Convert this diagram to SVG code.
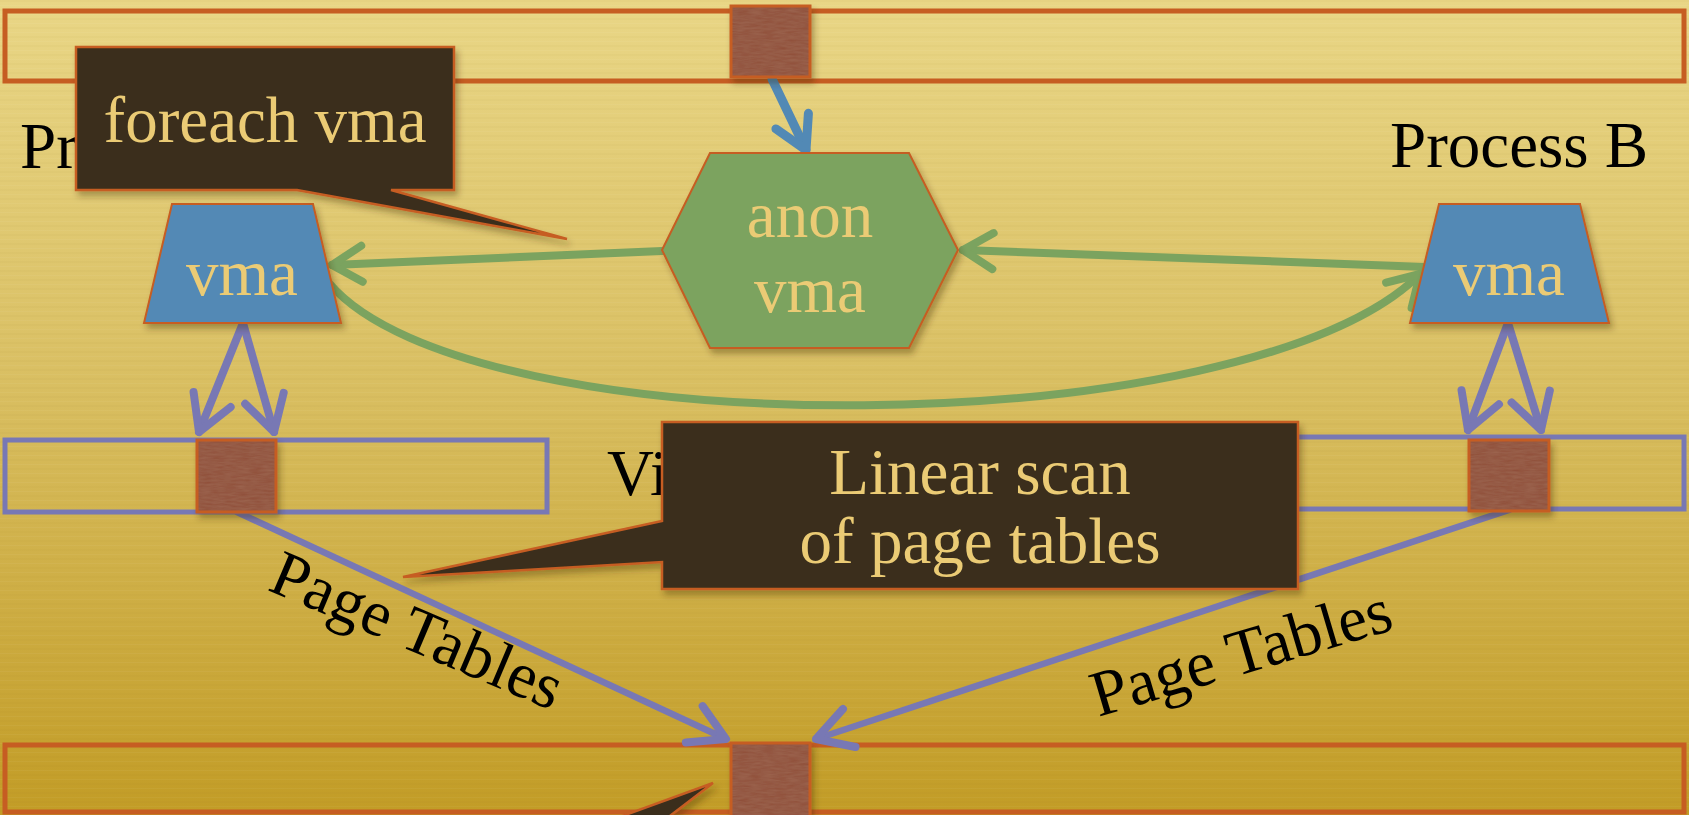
<svg xmlns="http://www.w3.org/2000/svg" width="1689" height="815" viewBox="0 0 1689 815">
  <defs>
    <linearGradient id="bg" x1="0" y1="0" x2="0" y2="1">
      <stop offset="0" stop-color="#E9D686"/>
      <stop offset="0.45" stop-color="#DAC064"/>
      <stop offset="1" stop-color="#C29C26"/>
    </linearGradient>
    <pattern id="grain" width="40" height="9" patternUnits="userSpaceOnUse">
      <rect x="0" y="0" width="40" height="2" fill="#8a6a10" opacity="0.035"/>
      <rect x="0" y="5" width="40" height="1" fill="#ffffff" opacity="0.04"/>
    </pattern>
    <filter id="shadow" x="-20%" y="-20%" width="140%" height="150%">
      <feDropShadow dx="3" dy="5" stdDeviation="3" flood-color="#3a2a00" flood-opacity="0.35"/>
    </filter>
    <filter id="rough" x="0" y="0" width="100%" height="100%">
      <feTurbulence type="fractalNoise" baseFrequency="0.08 0.5" numOctaves="2" seed="4" result="n"/>
      <feColorMatrix in="n" type="matrix" values="0 0 0 0 0.45  0 0 0 0 0.24  0 0 0 0 0.16  0 0 0 0.35 0" result="tint"/>
      <feComposite in="tint" in2="SourceGraphic" operator="atop"/>
    </filter>
    <marker id="ah-blue" markerUnits="userSpaceOnUse" orient="auto" overflow="visible" refX="0" refY="0">
      <path d="M-32,-18 L0,0 L-32,18" fill="none" stroke="#5289B5" stroke-width="9" stroke-linecap="round" stroke-linejoin="round"/>
    </marker>
    <marker id="ah-green" markerUnits="userSpaceOnUse" orient="auto" overflow="visible" refX="0" refY="0">
      <path d="M-30,-18 L0,0 L-30,18" fill="none" stroke="#7BA35F" stroke-width="8" stroke-linecap="round" stroke-linejoin="round"/>
    </marker>
    <marker id="ah-purple" markerUnits="userSpaceOnUse" orient="auto" overflow="visible" refX="0" refY="0">
      <path d="M-35,-20 L0,0 L-35,20" fill="none" stroke="#7878B4" stroke-width="8" stroke-linecap="round" stroke-linejoin="round"/>
    </marker>
    <style>
      .bar { fill: none; stroke: #C65D22; stroke-width: 5; }
      .vbar { fill: none; stroke: #7878B4; stroke-width: 5; }
      .page { fill: #8E4C36; }
      .page-edge { fill: none; stroke: #C65D22; stroke-width: 3; }
      .vma { fill: #5289B5; stroke: #C65D22; stroke-width: 2; }
      .anon { fill: #7BA35F; stroke: #C65D22; stroke-width: 2; }
      .callout { fill: #3A2F1E; stroke: #C65D22; stroke-width: 2.5; stroke-linejoin: miter; }
      .lbl { font-family: "Liberation Serif", "Times New Roman", serif; font-size: 65px; }
      .light { fill: #EBCB74; }
      .dark { fill: #000000; }
      .mid { text-anchor: middle; }
      .c-blue { fill: none; stroke: #5289B5; stroke-width: 9; stroke-linecap: round; }
      .c-green { fill: none; stroke: #7BA35F; stroke-width: 8; stroke-linecap: round; }
      .c-purple { fill: none; stroke: #7878B4; stroke-width: 8; stroke-linecap: round; }
      .c-pt { fill: none; stroke: #7878B4; stroke-width: 6.5; stroke-linecap: round; }
    </style>
  </defs>

  <!-- background -->
  <rect x="0" y="0" width="1689" height="815" fill="url(#bg)"/>
  <rect x="0" y="0" width="1689" height="815" fill="url(#grain)"/>

  <!-- physical memory strips -->
  <g id="phys-top">
    <rect class="bar" x="5" y="11" width="1679" height="70"/>
  </g>
  <g id="phys-bottom">
    <rect class="bar" x="5" y="745" width="1679" height="67"/>
  </g>

  <!-- virtual memory strips -->
  <g id="vm-a">
    <rect class="vbar" x="5" y="440" width="542" height="72"/>
  </g>
  <g id="vm-b">
    <rect class="vbar" x="1140" y="437" width="544" height="72"/>
  </g>

  <!-- plain labels -->
  <g id="label-process-a">
    <text class="lbl dark" x="20" y="168">Pr</text>
  </g>
  <g id="label-process-b">
    <text class="lbl dark" x="1390" y="167">Process B</text>
  </g>
  <g id="label-virtual">
    <text class="lbl dark" x="607" y="495">Vi</text>
  </g>
  <g id="label-pt-a">
    <text class="lbl dark mid" transform="translate(409,650) rotate(23)">Page Tables</text>
  </g>
  <g id="label-pt-b">
    <text class="lbl dark mid" transform="translate(1247,673) rotate(-16.5)">Page Tables</text>
  </g>

  <!-- connectors -->
  <g id="connectors">
    <path class="c-blue" d="M772,79 L806,150" marker-end="url(#ah-blue)"/>
    <path class="c-green" d="M662,251 L332,265" marker-end="url(#ah-green)"/>
    <path class="c-green" d="M1425,267 L963,250" marker-end="url(#ah-green)"/>
    <path class="c-green" d="M329,283 C470,450 1250,445 1420,274" marker-end="url(#ah-green)"/>
    <path class="c-purple" d="M243,323 L199,432" marker-end="url(#ah-purple)"/>
    <path class="c-purple" d="M243,323 L274,432" marker-end="url(#ah-purple)"/>
    <path class="c-purple" d="M1508,323 L1468,430" marker-end="url(#ah-purple)"/>
    <path class="c-purple" d="M1508,323 L1541,430" marker-end="url(#ah-purple)"/>
    <path class="c-pt" d="M237,512 L726,739" marker-end="url(#ah-purple)"/>
    <path class="c-pt" d="M1509,510 L816,739" marker-end="url(#ah-purple)"/>
  </g>

  <!-- pages -->
  <g id="page-top" filter="url(#shadow)">
    <rect class="page" x="731" y="6" width="79" height="71" filter="url(#rough)"/>
    <rect class="page-edge" x="731" y="6" width="79" height="71"/>
  </g>
  <g id="page-vm-a" filter="url(#shadow)">
    <rect class="page" x="197" y="440" width="79" height="72" filter="url(#rough)"/>
    <rect class="page-edge" x="197" y="440" width="79" height="72"/>
  </g>
  <g id="page-vm-b" filter="url(#shadow)">
    <rect class="page" x="1469" y="440" width="80" height="71" filter="url(#rough)"/>
    <rect class="page-edge" x="1469" y="440" width="80" height="71"/>
  </g>
  <g id="page-bottom" filter="url(#shadow)">
    <rect class="page" x="731" y="743" width="79" height="80" filter="url(#rough)"/>
    <rect class="page-edge" x="731" y="743" width="79" height="80"/>
  </g>

  <!-- vma nodes -->
  <g id="vma-a" filter="url(#shadow)">
    <polygon class="vma" points="172,204 313,204 341,323 144,323"/>
    <text class="lbl light mid" x="242" y="295">vma</text>
  </g>
  <g id="vma-b" filter="url(#shadow)">
    <polygon class="vma" points="1439,204 1580,204 1609,323 1410,323"/>
    <text class="lbl light mid" x="1509" y="295">vma</text>
  </g>
  <g id="anon-vma" filter="url(#shadow)">
    <polygon class="anon" points="662,250 710,153 909,153 958,250 909,348 710,348"/>
    <text class="lbl light mid" x="810" y="237">anon</text>
    <text class="lbl light mid" x="810" y="312">vma</text>
  </g>

  <!-- callouts -->
  <g id="callout-foreach" filter="url(#shadow)">
    <path class="callout" d="M76,47 H454 V190 H391 L567,239 L297,190 H76 Z"/>
    <text class="lbl light mid" x="265" y="142">foreach vma</text>
  </g>
  <g id="callout-linear" filter="url(#shadow)">
    <path class="callout" d="M662,422 H1298 V589 H662 V562 L403,577 L662,521 Z"/>
    <text class="lbl light mid" x="980" y="494">Linear scan</text>
    <text class="lbl light mid" x="980" y="563">of page tables</text>
  </g>
  <g id="callout-bottom" filter="url(#shadow)">
    <path class="callout" d="M606,822 L713,783 L662,822 Z"/>
  </g>
</svg>
